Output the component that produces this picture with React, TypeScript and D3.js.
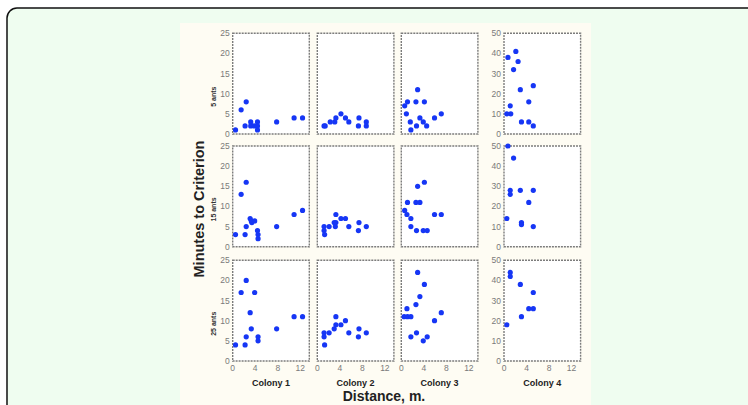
import React from "react";
import * as d3 from "d3";

// panel data: [distance (m), minutes to criterion]
const colonies = ["Colony 1", "Colony 2", "Colony 3", "Colony 4"];
const rowLabels = ["5 ants", "15 ants", "25 ants"];
const xTicks = [0, 4, 8, 12];
const yTicksLow = [0, 5, 10, 15, 20, 25];
const yTicksHigh = [0, 10, 20, 30, 40, 50];

const c1Ants5 = [[0.5, 1], [1.5, 6], [2.4, 8], [2.2, 2], [3.2, 3], [3.2, 2], [3.8, 2], [4.4, 3], [4.4, 2], [4.4, 1], [7.8, 3], [10.9, 4], [12.4, 4]];
const c2Ants5 = [[1.2, 2], [1.4, 2], [2.3, 3], [3.1, 3], [3.3, 4], [4.2, 5], [5, 4], [5.6, 3], [7.4, 4], [7.3, 2], [8.7, 3], [8.7, 2]];
const c3Ants5 = [[0.6, 7], [1.1, 8], [0.9, 5], [1.6, 3], [1.7, 1], [2.6, 8], [2.9, 11], [2.7, 2], [3.3, 4], [4.1, 8], [3.9, 3], [4.5, 2], [5.9, 4], [7.1, 5]];
const c4Ants5 = [[0.7, 38], [2.1, 41], [2.5, 36], [1.7, 32], [2.9, 22], [5.2, 24], [4.4, 16], [1.1, 14], [0.5, 10], [1.2, 10], [3.1, 6], [4.4, 6], [5.2, 4]];

const c1Ants15 = [[0.5, 3], [1.5, 13], [2.4, 16], [2.2, 3], [2.4, 5], [3.1, 7], [3.3, 6.4], [3.4, 6], [3.9, 6.4], [4.4, 4], [4.5, 3], [4.5, 2], [7.8, 5], [10.9, 8], [12.4, 9]];
const c2Ants15 = [[1.2, 5], [1.2, 4], [1.3, 3], [2.1, 5], [3, 6], [3.3, 8], [3.3, 6], [3.2, 5], [4.2, 7], [5, 7], [5.6, 5], [7.4, 6], [7.3, 4], [8.7, 5]];
const c3Ants15 = [[0.6, 9], [1, 8], [1.1, 11], [1.7, 7], [1.7, 5], [2.6, 11], [3.3, 11], [2.9, 15], [4.1, 16], [2.7, 4], [3.9, 4], [4.6, 4], [5.9, 8], [7.1, 8]];
const c4Ants15 = [[0.7, 50], [1.7, 44], [1.1, 28], [1.1, 26], [2.9, 28], [5.2, 28], [4.4, 22], [0.5, 14], [3.1, 12], [3.1, 11], [5.2, 10]];

const c1Ants25 = [[0.5, 4], [1.5, 17], [2.4, 20], [2.2, 4], [2.4, 6], [3.1, 12], [3.3, 8], [3.9, 17], [4.5, 6], [4.5, 5], [7.8, 8], [10.9, 11], [12.4, 11]];
const c2Ants25 = [[1.2, 7], [1.2, 6], [1.3, 4], [2.1, 7], [3, 8], [3.3, 11], [3.3, 9], [4.2, 9], [5, 10], [5.6, 7], [7.4, 8], [7.3, 6], [8.7, 7]];
const c3Ants25 = [[0.5, 11], [1.1, 11], [1, 13], [1.7, 11], [1.7, 6], [2.6, 14], [2.7, 7], [3.3, 16], [2.9, 22], [4.1, 19], [3.9, 5], [4.6, 6], [5.9, 10], [7.1, 12]];
const c4Ants25 = [[1.1, 44], [1.1, 42], [2.9, 38], [5.2, 34], [4.4, 26], [5.2, 26], [3.1, 22], [0.5, 18]];

const panels = [
  [c1Ants5, c2Ants5, c3Ants5, c4Ants5],
  [c1Ants15, c2Ants15, c3Ants15, c4Ants15],
  [c1Ants25, c2Ants25, c3Ants25, c4Ants25],
];

const panelLeft = [232.7, 317.3, 401.3, 504];
const rowTop = [33.3, 146, 260.3];
const pw = 76.6;
const ph = 100.7;
const font = "Arial, 'Liberation Sans', sans-serif";

export default function App() {
  const x = d3.scaleLinear().domain([0, 13.6]).range([0, pw]);
  const yLow = d3.scaleLinear().domain([0, 25]).range([ph, 0]);
  const yHigh = d3.scaleLinear().domain([0, 50]).range([ph, 0]);

  return (
    <svg
      width={748}
      height={405}
      style={{ position: "absolute", left: 0, top: 0 }}
      fontFamily={font}
    >
      <rect x={0} y={0} width={748} height={405} fill="#ffffff" />
      <rect x={7} y={8} width={760} height={420} rx={10} fill="#effdf0" stroke="#111" strokeWidth={1.5} />
      <rect x={180} y={23} width={411} height={382} fill="#fefcf3" />

      {panels.map((row, ri) =>
        row.map((pts, ci) => {
          const y = ci === 3 ? yHigh : yLow;
          const ticks = ci === 3 ? yTicksHigh : yTicksLow;
          const showY = ci === 0 || ci === 3;
          return (
            <g key={`${ri}-${ci}`} transform={`translate(${panelLeft[ci]},${rowTop[ri]})`}>
              <rect width={pw} height={ph} fill="#ffffff" stroke="#7c7c7c" strokeWidth={1.4} strokeDasharray="2,1" />
              {showY &&
                ticks.map((t) => (
                  <text key={t} x={-3} y={y(t)} dy="0.35em" textAnchor="end" fontSize={8.5} fill="#7a7a7a">
                    {t}
                  </text>
                ))}
              {ri === 2 &&
                xTicks.map((t) => (
                  <text key={t} x={x(t)} y={ph + 10.5} textAnchor="middle" fontSize={8.5} fill="#7a7a7a">
                    {t}
                  </text>
                ))}
              {pts.map((p, i) => (
                <circle key={i} cx={x(p[0])} cy={y(p[1])} r={2.6} fill="#1636f5" />
              ))}
            </g>
          );
        })
      )}

      {rowLabels.map((l, ri) => (
        <text
          key={l}
          transform={`translate(216,${rowTop[ri] + ph * 0.63}) rotate(-90)`}
          textAnchor="middle"
          fontSize={7}
          fontWeight="bold"
          fill="#333"
        >
          {l}
        </text>
      ))}

      {colonies.map((c, ci) => (
        <text key={c} x={panelLeft[ci] + pw / 2} y={386} textAnchor="middle" fontSize={9} fontWeight="bold" fill="#222">
          {c}
        </text>
      ))}

      <text transform="translate(204,209) rotate(-90)" textAnchor="middle" fontSize={14.5} fontWeight="bold" fill="#222">
        Minutes to Criterion
      </text>
      <text x={384} y={400.5} textAnchor="middle" fontSize={14} fontWeight="bold" fill="#222">
        Distance, m.
      </text>
    </svg>
  );
}
